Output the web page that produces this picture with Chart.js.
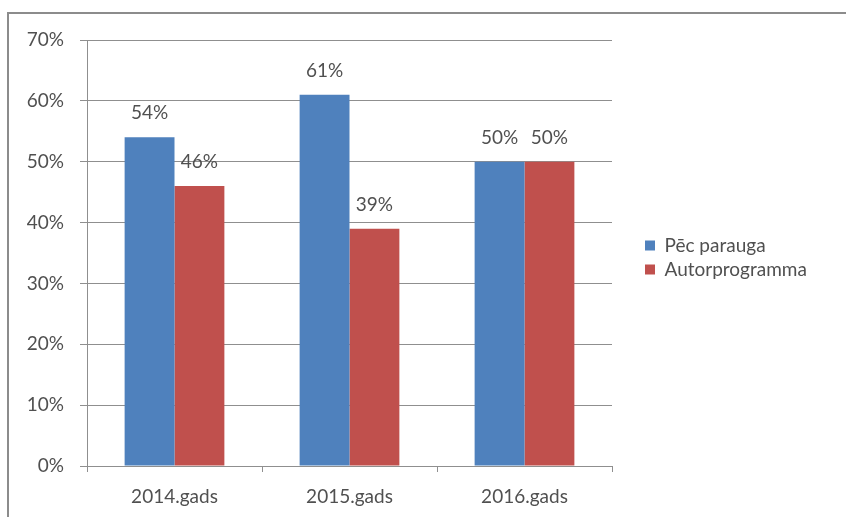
<!DOCTYPE html>
<html>
<head>
<meta charset="utf-8">
<script src="https://cdn.jsdelivr.net/npm/chart.js@4"></script>
<style>
  html, body { margin: 0; padding: 0; background: #fff; }
  #wrap { position: relative; width: 846px; height: 517px; overflow: hidden; }
  #frame { position: absolute; left: 7px; top: 12px; width: 846px; height: 600px; border: 2px solid #8c8c8c; box-sizing: border-box; }
  #chart { position: absolute; left: 0; top: 0; }
</style>
</head>
<body>
<div id="wrap">
  <div id="frame"></div>
  <canvas id="chart" width="846" height="517"></canvas>
</div>
<script>
const categories = ['2014.gads', '2015.gads', '2016.gads'];
const pecParauga = [54, 61, 50];
const autorprogramma = [46, 39, 50];
const seriesNames = ['Pēc parauga', 'Autorprogramma'];
const yTicks = [0, 10, 20, 30, 40, 50, 60, 70];

const FONT = 'Lato, "Open Sans", sans-serif';
const TEXT = '#505050';
const GRID = '#8f8f8f';

// Draw the value labels above each bar
const barLabels = {
  id: 'barLabels',
  afterDatasetsDraw(chart) {
    const ctx = chart.ctx;
    ctx.save();
    ctx.font = '19px ' + FONT;
    ctx.fillStyle = TEXT;
    ctx.textAlign = 'center';
    ctx.textBaseline = 'middle';
    chart.data.datasets.forEach((ds, i) => {
      chart.getDatasetMeta(i).data.forEach((bar, j) => {
        ctx.fillText(ds.data[j] + '%', bar.x, bar.y - 24);
      });
    });
    ctx.restore();
  }
};

// Move legend away from the plot and a bit up, like the original
const legendShift = {
  id: 'legendShift',
  afterLayout(chart) {
    const lg = chart.legend;
    lg.left = 640;
    lg.right = chart.width;
    lg.width = lg.right - lg.left;
    lg.top -= 21;
    lg.bottom -= 21;
  }
};

const ctx = document.getElementById('chart').getContext('2d');
const chart = new Chart(ctx, {
  type: 'bar',
  data: {
    labels: categories,
    datasets: [
      { label: seriesNames[0], data: pecParauga, backgroundColor: '#4F81BD', borderWidth: 0 },
      { label: seriesNames[1], data: autorprogramma, backgroundColor: '#C0504D', borderWidth: 0 }
    ]
  },
  options: {
    responsive: false,
    animation: false,
    layout: { padding: { top: 40, right: 74, bottom: 0, left: 0 } },
    categoryPercentage: 0.57,
    barPercentage: 1,
    scales: {
      x: {
        grid: { drawOnChartArea: false, drawTicks: true, tickLength: 6, color: GRID, offset: true },
        border: { color: GRID, width: 1 },
        ticks: { font: { family: FONT, size: 19 }, color: TEXT, padding: 13 },
        afterFit(scale) { scale.height = 51; }
      },
      y: {
        min: 0,
        max: 70,
        afterBuildTicks(scale) { scale.ticks = yTicks.map(v => ({ value: v })); },
        grid: { color: GRID, tickLength: 7 },
        border: { color: GRID, width: 1 },
        ticks: { font: { family: FONT, size: 19 }, color: TEXT, padding: 16, callback: v => v + '%' },
        afterFit(scale) { scale.width = 87; }
      }
    },
    plugins: {
      legend: {
        position: 'right',
        maxWidth: 160,
        labels: { boxWidth: 10, boxHeight: 10, padding: 5, font: { family: FONT, size: 19 }, color: TEXT }
      },
      tooltip: { enabled: false }
    }
  },
  plugins: [barLabels, legendShift]
});
</script>
</body>
</html>
